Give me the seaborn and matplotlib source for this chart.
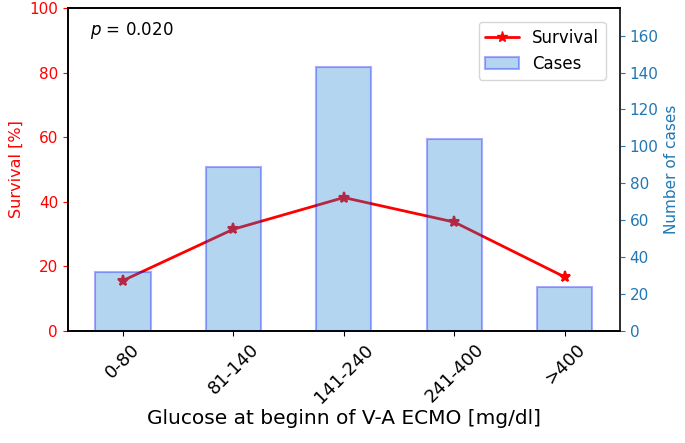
import matplotlib
matplotlib.use("Agg")

import matplotlib.pyplot as plt
import seaborn as sns
import pandas as pd
from matplotlib.lines import Line2D
from matplotlib.patches import Patch

sns.set_style("ticks")
plt.rcParams["text.color"] = "black"
plt.rcParams["xtick.color"] = "black"
plt.rcParams["axes.labelcolor"] = "black"

categories = ["0-80", "81-140", "141-240", "241-400", ">400"]
cases = [32, 89, 143, 104, 24]
survival = [15.6, 31.5, 41.3, 33.7, 16.7]

df = pd.DataFrame({"group": categories, "cases": cases, "survival": survival})

fig, ax1 = plt.subplots(figsize=(6.85, 4.43), dpi=100)
fig.subplots_adjust(left=0.099, right=0.905, top=0.982, bottom=0.253)
ax2 = ax1.twinx()

bar_color = (0.08, 0.49, 0.81)

sns.pointplot(
    data=df,
    x="group",
    y="survival",
    order=categories,
    color="red",
    markers="*",
    markersize=8,
    linewidth=2,
    ax=ax1
)

sns.barplot(
    data=df,
    x="group",
    y="cases",
    order=categories,
    color=bar_color,
    width=0.5,
    alpha=0.32,
    edgecolor="blue",
    linewidth=1.5,
    saturation=1,
    ax=ax2
)

ax1.set_ylim(0, 100)
ax2.set_ylim(0, 175)
ax1.set_xlim(-0.5, 4.5)
ax2.set_yticks(range(0, 161, 20))

ax1.set_xlabel("Glucose at beginn of V-A ECMO [mg/dl]", fontsize=14.5,
               labelpad=2)
ax1.set_ylabel("Survival [%]", color="red", fontsize=11.5)
ax2.set_ylabel("Number of cases", color="tab:blue", fontsize=11)
ax2.set_xlabel("")

ax1.tick_params(axis="y", colors="red", labelsize=11)
ax2.tick_params(axis="y", colors="tab:blue", labelsize=11)
ax1.tick_params(axis="x", labelsize=13, labelrotation=45)

for ax in (ax1, ax2):
    for s in ax.spines.values():
        s.set_color("black")
        s.set_linewidth(1.2)
ax2.spines["right"].set_color("#333333")

ax1.text(0.04, 0.93, "$p$ = 0.020", transform=ax1.transAxes,
         fontsize=12, va="center")

handles = [
    Line2D([], [], color="red", marker="*", markersize=8, linewidth=2),
    Patch(facecolor=bar_color, edgecolor="blue", alpha=0.32, linewidth=1.5),
]
ax2.legend(handles, ["Survival", "Cases"], loc="upper right",
           fontsize=12, borderaxespad=0.85)

plt.savefig("out.png")
plt.close()
